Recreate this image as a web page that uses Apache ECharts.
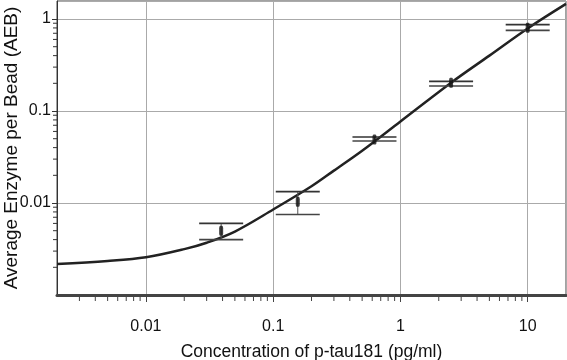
<!DOCTYPE html>
<html>
<head>
<meta charset="utf-8">
<script src="https://cdn.jsdelivr.net/npm/echarts@6/dist/echarts.min.js"></script>
<style>
html,body{margin:0;padding:0;background:#fff;}
#chart{width:567px;height:360px;}
</style>
</head>
<body>
<div id="chart"></div>
<script>
// ---- data ----
var concentration = [0.039, 0.156, 0.625, 2.5, 10];
var aebMean  = [0.0050, 0.0103, 0.049, 0.203, 0.805];
var aebUpper = [0.0060, 0.0133, 0.0521, 0.210, 0.870];
var aebLower = [0.0040, 0.0075, 0.0472, 0.187, 0.753];

var fitX = [0.002, 0.005, 0.01, 0.02, 0.03, 0.05, 0.1, 0.2, 0.3, 0.5, 1, 2.5, 5, 10, 20];
var fitY = [0.00217, 0.00234, 0.00257, 0.00315, 0.0037, 0.0049, 0.0085, 0.0152, 0.0225, 0.037, 0.077, 0.203, 0.40, 0.79, 1.46];

var xTickLabels = ['0.01', '0.1', '1', '10'];
var yTickLabels = ['0.01', '0.1', '1'];
var xMinorTicks = [0.003,0.004,0.005,0.006,0.007,0.008,0.009,
                   0.02,0.03,0.04,0.05,0.06,0.07,0.08,0.09,
                   0.2,0.3,0.4,0.5,0.6,0.7,0.8,0.9,
                   2,3,4,5,6,7,8,9];
var yMinorTicks = [0.002,0.003,0.004,0.005,0.006,0.007,0.008,0.009,
                   0.02,0.03,0.04,0.05,0.06,0.07,0.08,0.09,
                   0.2,0.3,0.4,0.5,0.6,0.7,0.8,0.9];

var xMin = 0.002, xMax = 20, yMin = 0.001, yMax = 1.57;

function fmt(labels) {
  return function (v) {
    var s = String(+Number(v).toPrecision(6));
    return labels.indexOf(s) >= 0 ? s : '';
  };
}

var chart = echarts.init(document.getElementById('chart'), null, {renderer: 'canvas'});
var FONT = '"Liberation Sans", Arial, Helvetica, sans-serif';

var option = {
  animation: false,
  backgroundColor: '#fff',
  grid: {left: 57, right: 1, top: 1, bottom: 65, containLabel: false, outerBoundsMode: 'none',
         show: true, borderColor: '#444', borderWidth: 1, backgroundColor: '#fff'},
  xAxis: {
    type: 'log', logBase: 10, min: xMin, max: xMax,
    name: 'Concentration of p-tau181 (pg/ml)', nameLocation: 'middle', nameGap: 48, nameMoveOverlap: false,
    nameTextStyle: {fontFamily: FONT, fontSize: 17.5, color: '#111'},
    axisLine: {show: true, lineStyle: {color: '#444', width: 3}},
    axisTick: {show: true, inside: false, length: 7, lineStyle: {color: '#444', width: 1}},
    axisLabel: {show: true, margin: 24, fontFamily: FONT, fontSize: 16, color: '#111', formatter: fmt(xTickLabels), showMinLabel: false, showMaxLabel: false},
    splitLine: {show: true, lineStyle: {color: '#aaa', width: 1}},
    minorTick: {show: false}
  },
  yAxis: {
    type: 'log', logBase: 10, min: yMin, max: yMax,
    name: 'Average Enzyme per Bead (AEB)', nameLocation: 'middle', nameGap: 36, nameMoveOverlap: false,
    nameTextStyle: {fontFamily: FONT, fontSize: 19, color: '#111'},
    axisLine: {show: true, lineStyle: {color: '#333', width: 1}},
    axisTick: {show: true, inside: false, length: 5, lineStyle: {color: '#333', width: 1}},
    axisLabel: {show: true, margin: 6, fontFamily: FONT, fontSize: 16, color: '#111', formatter: fmt(yTickLabels), showMinLabel: false, showMaxLabel: false},
    splitLine: {show: true, lineStyle: {color: '#aaa', width: 1}}
  },
  series: [
    {
      type: 'custom', name: 'xMinor', silent: true, clip: false, z: 5,
      data: xMinorTicks.map(function (v) { return [v, yMin]; }),
      renderItem: function (params, api) {
        var p = api.coord([api.value(0), yMin]);
        return {type: 'line', shape: {x1: p[0], y1: p[1] + 1, x2: p[0], y2: p[1] + 6}, style: {stroke: '#444', lineWidth: 1}};
      }
    },
    {
      type: 'custom', name: 'yMinor', silent: true, clip: false, z: 5,
      data: yMinorTicks.map(function (v) { return [xMin, v]; }),
      renderItem: function (params, api) {
        var p = api.coord([xMin, api.value(1)]);
        return {type: 'line', shape: {x1: p[0] - 4, y1: p[1], x2: p[0], y2: p[1]}, style: {stroke: '#333', lineWidth: 1}};
      }
    },
    {
      type: 'line', name: 'fit', smooth: 0.35, showSymbol: false, symbol: 'none', z: 3,
      data: fitX.map(function (x, i) { return [x, fitY[i]]; }),
      lineStyle: {color: '#222', width: 2.5}
    },
    {
      type: 'custom', name: 'err', silent: true, z: 4,
      data: concentration.map(function (x, i) { return [x, aebLower[i], aebUpper[i]]; }),
      renderItem: function (params, api) {
        var x = api.value(0);
        var pl = api.coord([x, api.value(1)]);
        var pu = api.coord([x, api.value(2)]);
        var hw = 22;
        return {
          type: 'group',
          children: [
            {type: 'line', shape: {x1: pu[0], y1: pu[1], x2: pl[0], y2: pl[1]}, style: {stroke: '#555', lineWidth: 1}},
            {type: 'line', shape: {x1: pu[0] - hw, y1: pu[1], x2: pu[0] + hw, y2: pu[1]}, style: {stroke: '#333', lineWidth: 1.6}},
            {type: 'line', shape: {x1: pl[0] - hw, y1: pl[1], x2: pl[0] + hw, y2: pl[1]}, style: {stroke: '#444', lineWidth: 1.6}}
          ]
        };
      }
    },
    {
      type: 'scatter', name: 'mean', z: 6,
      symbol: 'roundRect', symbolSize: [4, 10],
      itemStyle: {color: '#111'},
      data: concentration.map(function (x, i) { return [x, aebMean[i]]; })
    }
  ]
};
chart.setOption(option);
</script>
</body>
</html>
